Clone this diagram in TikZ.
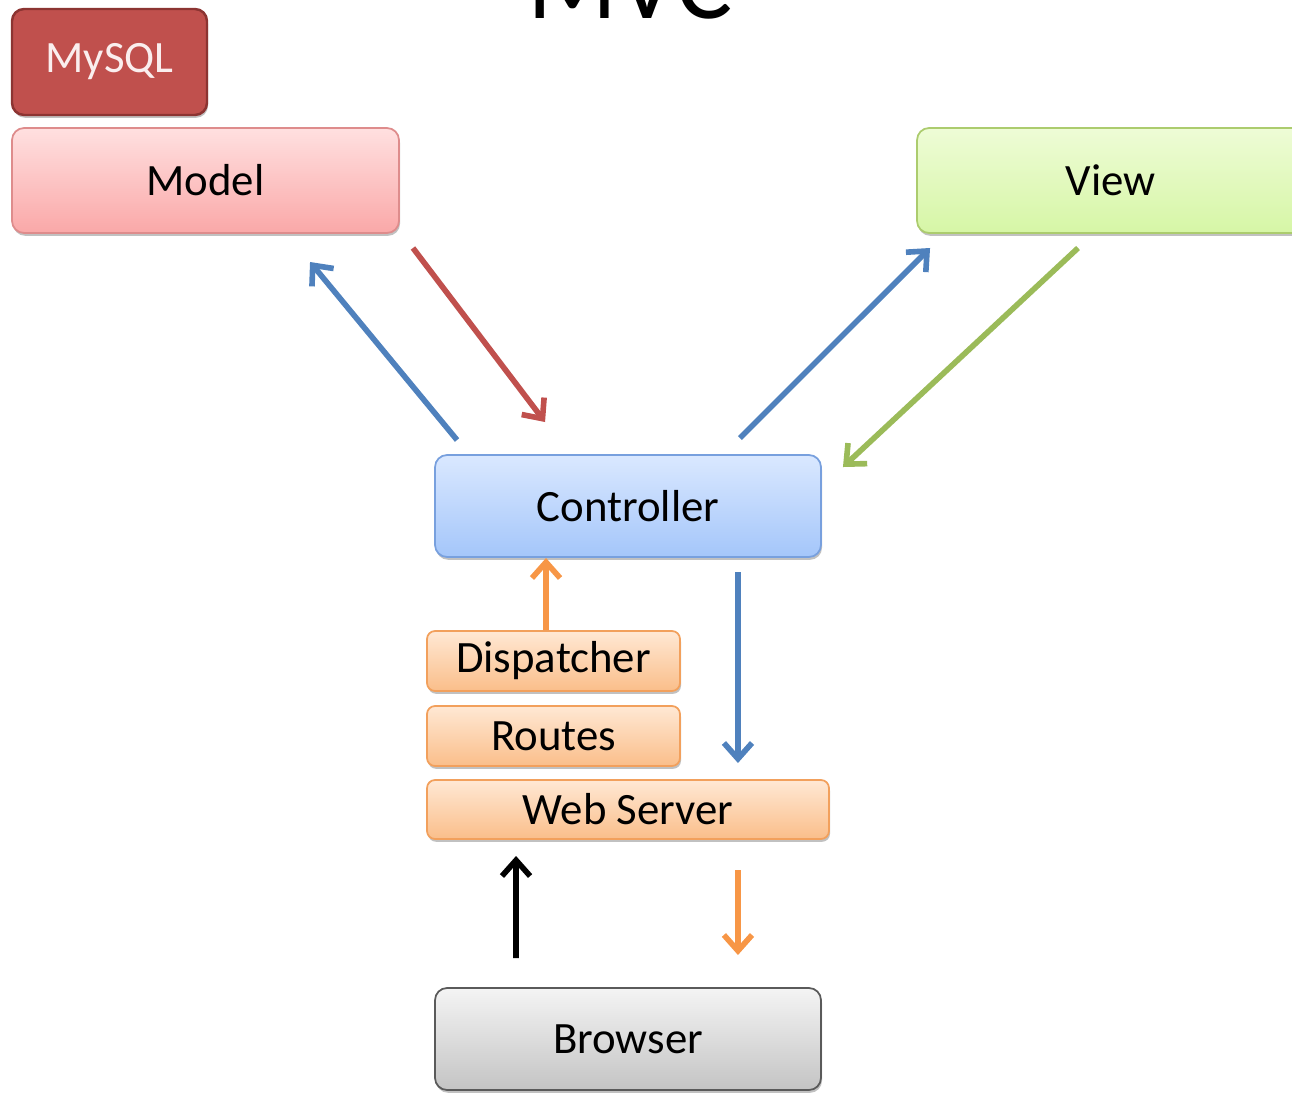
\documentclass[tikz,border=0pt]{standalone}
\usepackage[rgb]{xcolor}
\usepackage{fontspec}
\setmainfont{Carlito}
\usepackage{tikz}
\usetikzlibrary{arrows.meta,calc,shadows}

\definecolor{arrblue}{RGB}{79,129,189}
\definecolor{arrred}{RGB}{192,80,77}
\definecolor{arrgreen}{RGB}{155,187,89}
\definecolor{arrorange}{RGB}{247,150,70}

\tikzset{
  mvcbox/.style={rounded corners=0.24cm, line width=1pt, inner sep=0pt, outer sep=0pt,
    font=\fontsize{25.5}{30}\selectfont,
    drop shadow={shadow xshift=0.6pt, shadow yshift=-1.6pt, opacity=0.35, fill=black!70}},
  modelbox/.style={mvcbox, draw={rgb,255:red,222;green,140;blue,140}, top color={rgb,255:red,255;green,224;blue,224}, bottom color={rgb,255:red,250;green,168;blue,168}},
  viewbox/.style={mvcbox, draw={rgb,255:red,172;green,204;blue,110}, top color={rgb,255:red,238;green,252;blue,214}, bottom color={rgb,255:red,214;green,246;blue,166}},
  ctrlbox/.style={mvcbox, draw={rgb,255:red,120;green,160;blue,222}, top color={rgb,255:red,218;green,232;blue,255}, bottom color={rgb,255:red,164;green,198;blue,250}},
  webbox/.style={mvcbox, rounded corners=0.16cm, draw={rgb,255:red,242;green,160;blue,92}, top color={rgb,255:red,255;green,232;blue,212}, bottom color={rgb,255:red,250;green,190;blue,138}},
  browserbox/.style={mvcbox, draw={rgb,255:red,90;green,90;blue,90}, top color={rgb,255:red,244;green,244;blue,244}, bottom color={rgb,255:red,196;green,196;blue,196}},
  flow/.style={line width=3.2pt, -{Straight Barb[length=9pt,width=16pt]}},
}

\begin{document}
\begin{tikzpicture}[x=0.02cm, y=-0.02cm]

\useasboundingbox (0,0) rectangle (1292,1093);
\clip (0,0) rectangle (1292,1093);

% Title
\path
(630,18) node [anchor=base, font=\fontsize{60}{70}\selectfont] (title) {MVC};


% Database
\path
(109.5,62) node [mvcbox, minimum width=3.9cm, minimum height=2.12cm, line width=1.4pt,
  draw={rgb,255:red,140;green,52;blue,50}, fill=arrred, text={rgb,255:red,250;green,238;blue,238}] (mysql) {MySQL};


% Model and View
\path
(205.5,180.5) node [modelbox, minimum width=7.74cm, minimum height=2.1cm] (model) {Model};

\path
(1110.5,180.5) node [viewbox, minimum width=7.74cm, minimum height=2.1cm] (view) {View};


% Controller
\path
(628,506) node [ctrlbox, minimum width=7.72cm, minimum height=2.04cm] (ctrl) {Controller};


% Request stack
\path
(553.5,661) node [webbox, minimum width=5.06cm, minimum height=1.2cm] (disp) {Dispatcher};

\path
(553.5,736) node [webbox, minimum width=5.06cm, minimum height=1.2cm] (routes) {Routes};

\path
(628,809.5) node [webbox, minimum width=8.04cm, minimum height=1.18cm] (web) {Web Server};


% Browser
\path
(628,1039) node [browserbox, minimum width=7.72cm, minimum height=2.04cm] (browser) {Browser};


% Controller <-> Model
\draw[flow, arrblue] ($(ctrl.north west)+(22,-15)$) -- ($(model.south west)+(298,29)$);
\draw[flow, arrred] ($(model.south east)+(14,15)$) -- ($(ctrl.north west)+(110,-33)$);

% Controller <-> View
\draw[flow, arrblue] ($(ctrl.north east)+(-81,-17)$) -- ($(view.south west)+(13,15)$);
\draw[flow, arrgreen] ($(view.south west)+(161,15)$) -- ($(ctrl.north east)+(22,12)$);

% Dispatcher -> Controller -> Web Server
\draw[flow, arrorange] ($(disp.north west)+(119,-1)$) -- ($(ctrl.south west)+(111,1)$);
\draw[flow, arrblue] ($(ctrl.south east)+(-83,15)$) -- ($(web.north east)+(-91,-17)$);

% Browser <-> Web Server
\draw[flow, black] ($(browser.north west)+(81,-30)$) -- ($(web.south west)+(89,17)$);
\draw[flow, arrorange] ($(web.south east)+(-91,31)$) -- ($(browser.north east)+(-83,-33)$);

\end{tikzpicture}
\end{document}
